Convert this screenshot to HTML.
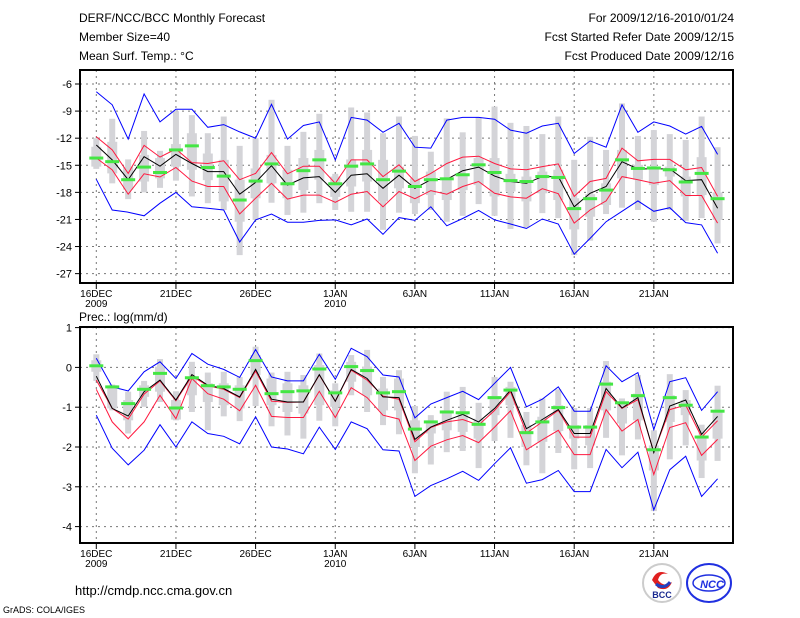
<!DOCTYPE html>
<html><head><meta charset="utf-8"><style>
body{margin:0;background:#fff;}
svg{display:block;font-family:"Liberation Sans",sans-serif;}
</style></head><body>
<svg id="c" width="800" height="618" viewBox="0 0 800 618" xmlns="http://www.w3.org/2000/svg">
<g font-size="12" fill="#000">
<text x="79" y="22">DERF/NCC/BCC Monthly Forecast</text>
<text x="79" y="41">Member Size=40</text>
<text x="79" y="60">Mean Surf. Temp.: °C</text>
<text x="734" y="22" text-anchor="end">For 2009/12/16-2010/01/24</text>
<text x="734" y="41" text-anchor="end">Fcst Started Refer Date 2009/12/15</text>
<text x="734" y="60" text-anchor="end">Fcst Produced Date 2009/12/16</text>
<text x="79" y="321">Prec.: log(mm/d)</text>
</g>
<text x="75" y="595" font-size="13">http://cmdp.ncc.cma.gov.cn</text>
<text x="3" y="613" font-size="9">GrADS: COLA/IGES</text>
<g>
<circle cx="662" cy="583" r="19" fill="#fff" stroke="#ccc" stroke-width="2"/>
<path d="M652 580 q5 -12 16 -6 q-8 -2 -10 6 q6 8 14 2 q-4 10 -14 6 z" fill="#e02020"/>
<path d="M656 584 q8 6 14 -2" stroke="#2040c0" stroke-width="3" fill="none"/>
<text x="662" y="598" font-size="9" font-weight="bold" text-anchor="middle" fill="#1a2a90">BCC</text>
</g>
<g>
<ellipse cx="709" cy="583" rx="22" ry="19" fill="#fff" stroke="#2030e0" stroke-width="2"/>
<ellipse cx="709" cy="583" rx="16" ry="8" fill="none" stroke="#2030e0" stroke-width="1.5"/>
<text x="712" y="588" font-size="11" font-weight="bold" font-style="italic" text-anchor="middle" fill="#2030e0">NCC</text>
</g>
</svg>
<script>
// ---------- Temperature panel data ----------
const days = 40;
const dateLabels = ["16DEC","21DEC","26DEC","1JAN","6JAN","11JAN","16JAN","21JAN"];
const yearLabels = ["2009","","","2010","","","",""];
const tTicks = [-6,-9,-12,-15,-18,-21,-24,-27];
const tBlueUp = [-6.85,-8.3,-12.1,-7.1,-10.2,-8.8,-8.8,-10.8,-10.5,-11.3,-12.0,-8.25,-12.1,-10.6,-10.2,-14.4,-9.7,-10.0,-11.35,-10.35,-13.0,-13.1,-10.0,-9.7,-9.7,-9.9,-11.1,-11.45,-10.65,-10.35,-13.7,-12.3,-13.0,-8.3,-11.35,-10.2,-10.65,-11.55,-10.7,-13.8];
const tBlueLo = [-16.55,-19.95,-20.2,-20.6,-19.2,-18.0,-19.6,-19.75,-19.95,-23.5,-21.05,-20.4,-21.3,-21.3,-21.1,-21.05,-21.6,-20.95,-22.65,-20.8,-21.1,-19.6,-21.7,-20.9,-20.0,-21.05,-21.5,-22.0,-20.95,-21.5,-24.85,-23.1,-21.25,-20.1,-18.95,-20.1,-19.7,-21.35,-21.6,-24.75];
const tRedUp = [-11.85,-13.3,-15.9,-12.8,-14.1,-13.2,-14.7,-14.8,-14.5,-16.6,-15.9,-13.6,-15.95,-15.1,-15.1,-17.0,-14.4,-14.4,-16.25,-14.95,-16.8,-15.9,-14.8,-14.1,-14.0,-14.8,-15.4,-15.5,-15.15,-14.85,-18.45,-16.8,-16.45,-13.1,-14.5,-14.35,-14.35,-15.5,-15.25,-18.45];
const tRedLo = [-14.2,-15.5,-18.2,-15.95,-16.3,-15.25,-16.75,-17.35,-17.35,-20.4,-18.65,-17.0,-18.75,-18.3,-18.3,-19.1,-18.2,-17.9,-19.6,-17.9,-18.7,-17.8,-18.2,-17.35,-16.8,-18.1,-18.5,-18.65,-17.6,-18.15,-21.4,-19.95,-18.95,-16.25,-16.6,-17.0,-16.7,-18.35,-18.35,-21.4];
const tMean = [-12.75,-14.4,-16.6,-14.05,-15.1,-13.8,-14.8,-15.7,-15.7,-18.2,-16.9,-15.05,-17.2,-16.4,-16.25,-18.0,-16.1,-15.95,-17.55,-16.1,-17.55,-16.6,-16.55,-15.6,-15.2,-16.2,-16.8,-17.0,-16.25,-16.25,-19.6,-18.1,-17.35,-14.6,-15.4,-15.4,-15.4,-16.7,-16.6,-19.75];
const tObs = [-14.2,-14.6,-16.6,-15.2,-15.8,-13.3,-12.85,-15.25,-16.2,-18.85,-16.75,-14.85,-17.05,-15.6,-14.4,-17.05,-15.1,-14.85,-16.6,-15.65,-17.35,-16.6,-16.5,-16.05,-14.95,-15.8,-16.7,-16.8,-16.25,-16.35,-19.8,-18.7,-17.75,-14.4,-15.35,-15.3,-15.5,-16.85,-15.9,-18.7];
const tWMax = [-12.0,-9.85,-14.35,-11.2,-13.4,-9.0,-9.45,-11.45,-9.6,-12.85,-12.0,-7.75,-12.85,-11.3,-9.3,-15.95,-8.6,-9.15,-11.45,-9.6,-11.75,-13.5,-9.8,-11.35,-9.7,-8.5,-10.3,-10.65,-11.55,-9.6,-14.4,-11.85,-13.3,-8.15,-11.75,-11.1,-11.55,-12.2,-9.6,-13.0];
const tWMin = [-15.4,-17.0,-18.75,-18.0,-17.5,-16.7,-18.45,-19.2,-19.95,-24.95,-21.05,-19.15,-20.5,-20.25,-19.2,-19.95,-20.15,-20.15,-22.15,-20.25,-20.4,-19.95,-21.25,-20.6,-19.3,-20.6,-22.05,-21.9,-20.3,-20.85,-24.95,-23.35,-20.4,-19.7,-19.95,-21.25,-19.95,-21.15,-20.85,-23.65];
const tBoxTop = [-12.95,-12.4,-15.15,-13.85,-14.2,-12.65,-11.45,-13.7,-14.4,-16.6,-15.35,-13.85,-15.5,-14.2,-13.3,-16.25,-14.35,-13.3,-14.4,-15.15,-16.45,-15.7,-16.45,-16.05,-14.2,-14.2,-15.95,-16.25,-15.7,-15.5,-18.65,-18.2,-17.0,-13.3,-14.95,-15.15,-15.15,-16.25,-14.1,-18.0];
const tBoxBot = [-15.15,-15.9,-17.7,-16.8,-16.45,-15.15,-15.5,-16.65,-19.0,-21.25,-18.65,-17.0,-18.65,-17.75,-16.6,-18.5,-17.35,-16.8,-19.0,-17.55,-19.2,-18.3,-18.85,-17.75,-17.2,-18.45,-17.9,-19.0,-18.1,-18.85,-22.1,-20.7,-19.4,-16.45,-16.6,-17.2,-16.25,-18.45,-18.3,-21.05];
// ---------- Precipitation panel data ----------
const pTicks = [1,0,-1,-2,-3,-4];
const pBlueUp = [0.23,-0.49,-0.59,-0.11,0.14,-0.28,0.35,0.08,-0.05,-0.25,0.45,-0.24,-0.34,-0.34,0.33,-0.3,0.48,0.27,-0.19,-0.24,-1.27,-0.92,-0.76,-0.6,-0.81,-0.4,0,-0.99,-0.8,-0.49,-1.1,-1.1,0.04,-0.36,-0.13,-1.56,-0.36,-0.26,-1.08,-0.61];
const pBlueLo = [-1.2,-2.03,-2.45,-2.08,-1.44,-2.0,-1.37,-1.66,-1.73,-1.92,-1.24,-2.0,-2.05,-2.17,-1.5,-2.06,-1.37,-1.54,-2.07,-2.1,-3.24,-2.97,-2.8,-2.61,-2.84,-2.42,-2.02,-2.91,-2.82,-2.59,-3.12,-3.12,-2.06,-2.52,-2.13,-3.58,-2.57,-2.23,-3.24,-2.8];
const pRedUp = [-0.32,-1.03,-1.3,-0.67,-0.34,-0.84,-0.22,-0.46,-0.55,-0.76,-0.09,-0.85,-0.88,-0.87,-0.19,-0.85,-0.07,-0.32,-0.72,-0.8,-1.87,-1.51,-1.37,-1.31,-1.45,-1.08,-0.61,-1.65,-1.37,-1.08,-1.75,-1.75,-0.61,-1.03,-0.81,-2.13,-1.06,-0.95,-1.75,-1.34];
const pRedLo = [-0.55,-1.37,-1.79,-1.37,-0.7,-1.29,-0.28,-0.66,-0.8,-1.09,-0.45,-1.23,-1.26,-1.26,-0.6,-1.26,-0.51,-0.76,-1.2,-1.3,-2.34,-1.98,-1.82,-1.71,-1.89,-1.5,-1.09,-2.07,-1.82,-1.58,-2.19,-2.19,-1.06,-1.6,-1.31,-2.69,-1.51,-1.39,-2.21,-1.81];
const pMean = [-0.22,-1.03,-1.22,-0.61,-0.32,-0.82,-0.18,-0.45,-0.53,-0.74,-0.05,-0.8,-0.87,-0.87,-0.18,-0.85,-0.05,-0.28,-0.74,-0.76,-1.81,-1.5,-1.33,-1.18,-1.37,-1.03,-0.57,-1.54,-1.31,-1.06,-1.66,-1.66,-0.53,-1.02,-0.76,-2.14,-0.97,-0.82,-1.68,-1.23];
const pObs = [0.04,-0.49,-0.91,-0.55,-0.15,-1.02,-0.26,-0.46,-0.49,-0.55,0.17,-0.66,-0.61,-0.59,-0.04,-0.64,0.02,-0.08,-0.64,-0.61,-1.55,-1.37,-1.12,-1.14,-1.43,-0.76,-0.57,-1.64,-1.37,-1.01,-1.5,-1.5,-0.42,-0.89,-0.71,-2.07,-0.76,-0.95,-1.75,-1.1];
const pWMax = [0.33,-0.43,-0.61,-0.34,0.21,-0.6,0.14,-0.13,-0.11,-0.24,0.52,-0.13,-0.11,-0.19,0.35,-0.4,0.31,0.44,-0.24,-0.07,-0.97,-1.2,-0.61,-0.49,-0.89,-0.24,-0.36,-1.12,-0.78,-0.55,-1.02,-1.02,0.16,-0.78,-0.19,-1.58,-0.17,-0.57,-1.44,-0.46];
const pWMin = [-0.34,-1.08,-1.66,-0.99,-0.87,-1.33,-1.12,-1.58,-1.23,-1.35,-0.97,-1.48,-1.71,-1.79,-1.34,-1.48,-0.7,-1.12,-1.45,-1.68,-2.66,-2.44,-2.13,-2.1,-2.53,-1.85,-1.77,-2.46,-2.66,-2.15,-2.56,-2.53,-1.77,-2.21,-1.81,-3.61,-2.31,-1.96,-2.78,-2.35];
const pBoxTop = [0.18,-0.45,-0.82,-0.45,0.02,-0.82,-0.24,-0.4,-0.4,-0.45,0.31,-0.28,-0.4,-0.45,0.06,-0.57,0.14,0.02,-0.53,-0.28,-1.33,-1.33,-1.08,-1.12,-1.29,-0.72,-0.49,-1.45,-1.24,-0.95,-1.45,-1.45,-0.36,-0.87,-0.66,-1.96,-0.7,-0.82,-1.71,-1.12];
const pBoxBot = [-0.11,-1.03,-1.33,-0.74,-0.61,-1.31,-0.7,-0.87,-0.95,-1.03,-0.19,-0.95,-1.12,-1.16,-0.95,-0.99,-0.36,-0.7,-1.08,-1.08,-2.0,-1.66,-1.58,-1.62,-1.79,-1.2,-0.95,-2.0,-1.87,-1.6,-1.79,-1.96,-1.08,-1.41,-1.33,-2.59,-1.37,-1.2,-2.34,-1.79];

const NS='http://www.w3.org/2000/svg';
const svg=document.getElementById('c');
function mk(tag,attrs,parent){const e=document.createElementNS(NS,tag);for(const k in attrs)e.setAttribute(k,attrs[k]);(parent||svg).appendChild(e);return e;}
const X0=96.3, DX=15.93, PL=80, PR=733;
function xs(i){return X0+DX*i;}

function panel(name,top,bottom,vTop,yOfTickTop,pxPerUnit,ticks,d){
  const g=mk('g',{});
  
  
  const ys=v=>yOfTickTop+(vTop-v)*pxPerUnit;
  // grid
  ticks.forEach(t=>{const y=ys(t);
    const l=mk('line',{x1:PL,x2:PR,y1:y,y2:y,stroke:'#777','stroke-dasharray':'2,4','stroke-width':1},g);
    
    
    const tk=mk('line',{x1:PL-5,x2:PL,y1:y,y2:y,stroke:'#000'},g);
    
    
    const tx=mk('text',{x:PL-8,y:y+4,'text-anchor':'end','font-size':11},g);
    tx.textContent=String(t);
    
    
  });
  dateLabels.forEach((lab,k)=>{const x=xs(k*5);
    const l=mk('line',{x1:x,x2:x,y1:top,y2:bottom,stroke:'#777','stroke-dasharray':'2,4'},g);
    
    
    const tk=mk('line',{x1:x,x2:x,y1:bottom,y2:bottom+6,stroke:'#000'},g);
    
    
    const tx=mk('text',{x:x,y:bottom+14,'text-anchor':'middle','font-size':10},g);
    tx.textContent=lab;
    
    
    if(yearLabels[k]){const ty=mk('text',{x:x,y:bottom+24,'text-anchor':'middle','font-size':10},g);
      ty.textContent=yearLabels[k];
      
      }
  });
  // boxes
  for(let i=0;i<days;i++){const x=xs(i);
    const w=mk('rect',{x:x-3,y:ys(d.wmax[i]),width:6,height:ys(d.wmin[i])-ys(d.wmax[i]),fill:'#d4d4d8'},g);
    
    
    const b=mk('rect',{x:x-5,y:ys(d.btop[i]),width:10,height:ys(d.bbot[i])-ys(d.btop[i]),fill:'#d4d4d8'},g);
    
    
  }
  const lines=[[d.bu,'#0000ff','upper-bound-line'],[d.bl,'#0000ff','lower-bound-line'],[d.ru,'#ff1a40','upper-std-line'],[d.rl,'#ff1a40','lower-std-line'],[d.m,'#000','ensemble-mean-line']];
  lines.forEach(([arr,col,nm])=>{
    const p=mk('polyline',{points:arr.map((v,i)=>xs(i).toFixed(1)+','+ys(v).toFixed(1)).join(' '),fill:'none',stroke:col,'stroke-width':1},g);
    
    
  });
  for(let i=0;i<days;i++){
    const o=mk('rect',{x:xs(i)-7,y:ys(d.o[i])-1.5,width:14,height:3,fill:'#44e644'},g);
    
    
  }
  const f=mk('rect',{x:PL,y:top,width:PR-PL,height:bottom-top,fill:'none',stroke:'#000','stroke-width':2},g);
  
  
}
panel('temperature-panel',70,283,-6,84,9.03,tTicks,{bu:tBlueUp,bl:tBlueLo,ru:tRedUp,rl:tRedLo,m:tMean,o:tObs,wmax:tWMax,wmin:tWMin,btop:tBoxTop,bbot:tBoxBot});
panel('precipitation-panel',327,543,1,327.6,39.8,pTicks,{bu:pBlueUp,bl:pBlueLo,ru:pRedUp,rl:pRedLo,m:pMean,o:pObs,wmax:pWMax,wmin:pWMin,btop:pBoxTop,bbot:pBoxBot});
</script>
</body></html>
